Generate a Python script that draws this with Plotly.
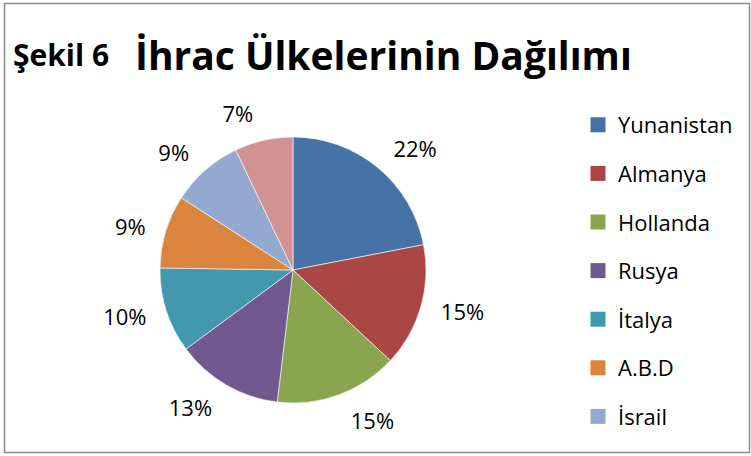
import plotly.graph_objects as go

labels = ["Yunanistan", "Almanya", "Hollanda", "Rusya", "İtalya", "A.B.D", "İsrail", "Diğer"]
values = [22, 15, 15, 13, 10.4, 8.9, 8.8, 7.1]
colors = ["#4572A7", "#AA4643", "#89A54E", "#71588F", "#4198AF", "#DB843D", "#93A9CF", "#D19392"]
legend_visible = 7  # the 8th legend entry is cut off in the original

FONT = "Open Sans"
W, H = 751, 456
CX, CY, R = 293, 270, 133      # pie centre / radius in px
RL = 146                       # radius used to place the outside labels

def dom(r):
    return dict(x=[(CX - r) / W, (CX + r) / W], y=[(H - CY - r) / H, (H - CY + r) / H])

fig = go.Figure()
# the visible pie
fig.add_trace(go.Pie(
    labels=labels, values=values, sort=False, direction="clockwise", rotation=0,
    marker=dict(colors=colors, line=dict(color="white", width=0.6)),
    textinfo="none", showlegend=False, domain=dom(R),
))
# transparent copy, slightly larger, used only to place the percentage labels
fig.add_trace(go.Pie(
    labels=labels, values=values, sort=False, direction="clockwise", rotation=0,
    marker=dict(colors=["rgba(0,0,0,0)"] * len(labels), line=dict(width=0)),
    texttemplate="%{percent:.0%}", textposition="outside",
    textfont=dict(family=FONT, size=22, color="#000000"),
    hoverinfo="skip", showlegend=False, domain=dom(RL),
))

for i in range(legend_visible):
    fig.add_trace(go.Scatter(
        x=[None], y=[None], mode="markers", name=labels[i],
        legendgroup=labels[i],
        marker=dict(symbol="square", size=15, color=colors[i]),
    ))

fig.update_layout(
    width=W, height=H,
    margin=dict(l=0, r=0, t=0, b=0),
    paper_bgcolor="white", plot_bgcolor="white",
    xaxis=dict(visible=False), yaxis=dict(visible=False),
    font=dict(family=FONT, color="#000000"),
    legend=dict(
        x=578 / W, xanchor="left", y=1 - 104 / H, yanchor="top",
        font=dict(family=FONT, size=22, color="#000000"),
        tracegroupgap=17, itemwidth=30,
        bgcolor="rgba(0,0,0,0)",
    ),
    annotations=[
        dict(text="<b>Şekil 6</b>", x=11 / W, y=1 - 55 / H, xref="paper", yref="paper",
             xanchor="left", yanchor="middle", showarrow=False,
             font=dict(family=FONT, size=30, color="#000000")),
        dict(text="<b>İhrac Ülkelerinin Dağılımı</b>", x=133 / W, y=1 - 54 / H,
             xref="paper", yref="paper", xanchor="left", yanchor="middle",
             showarrow=False, font=dict(family=FONT, size=39, color="#000000")),
    ],
    shapes=[
        dict(type="rect", xref="paper", yref="paper",
             x0=4.5 / W, x1=749.5 / W, y0=3.5 / H, y1=1 - 3.5 / H,
             line=dict(color="#8c8c8c", width=1.5)),
    ],
)

fig.write_html("out.html")
